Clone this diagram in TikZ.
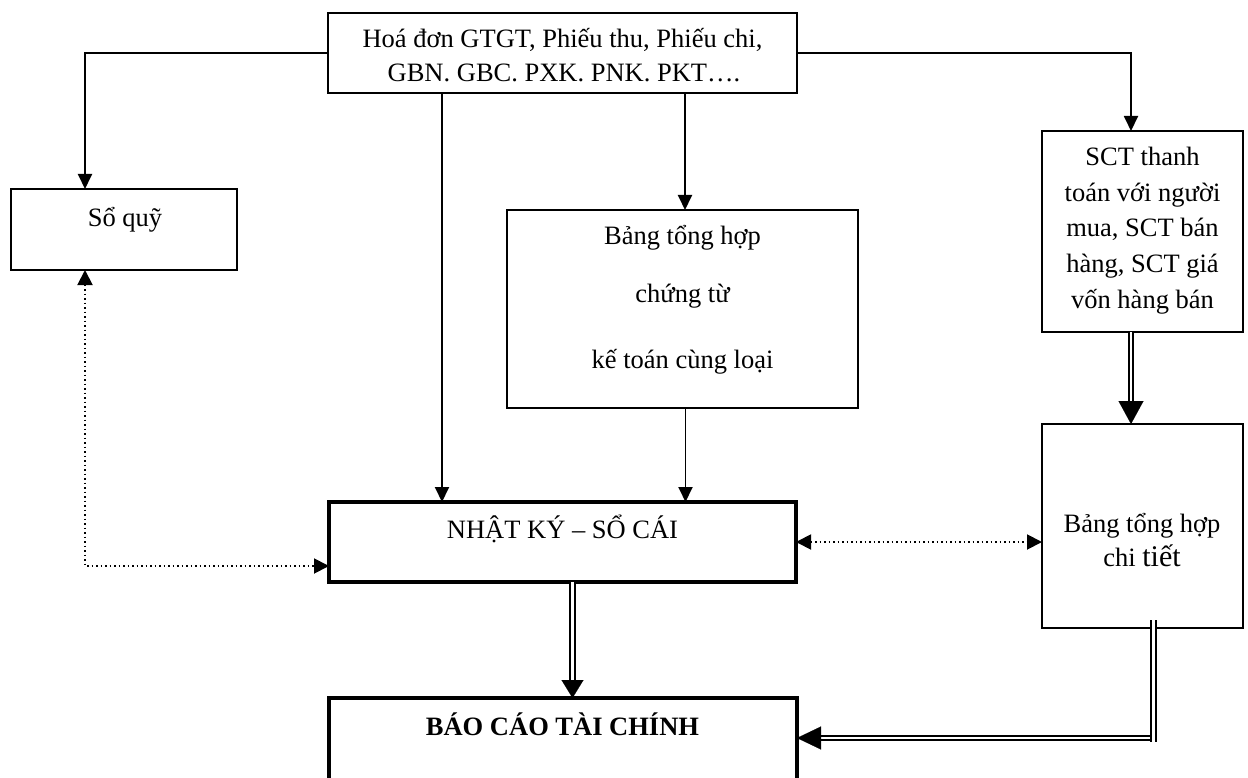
\documentclass[tikz,border=0pt]{standalone}
\usepackage{fontspec}
\setmainfont{Liberation Serif}
\usetikzlibrary{arrows.meta}
\begin{document}
\begin{tikzpicture}[x=1pt,y=-1pt,
  box/.style={draw, rectangle, inner sep=0pt, outer sep=0pt, line width=#1},
  box/.default=2.5pt,
  txt/.style={inner sep=0pt, anchor=base, font=\fontsize{26.5}{30}\selectfont},
  arr/.style={line width=1.9pt, -{Triangle[length=15pt,width=14pt]}},
  dots/.style={line width=1.9pt, dash pattern=on 1.9pt off 2.6pt,
    {Triangle[length=15pt,width=15pt]}-{Triangle[length=15pt,width=15pt]}},
  dbl/.style={double, double distance=2.8pt, line width=1.8pt},
  dhead/.style 2 args={line width=0.1pt, -{Triangle[length=#1,width=#2]}}
]
\clip (0,0) rectangle (1248,778);

% boxes
\node[box, minimum width=469pt, minimum height=80pt] (top) at (562.5,53) {};
\node[box, minimum width=226pt, minimum height=81pt] (soquy) at (124,229.5) {};
\node[box, minimum width=351pt, minimum height=198pt] (mid) at (682.5,309) {};
\node[box=2pt, minimum width=201pt, minimum height=201pt] (sct) at (1142.5,231.5) {};
\node[box=4pt, minimum width=467pt, minimum height=80pt] (nk) at (562.5,542) {};
\node[box=2pt, minimum width=201pt, minimum height=204pt] (chi) at (1142.5,526) {};
\node[box=4pt, minimum width=468pt, minimum height=102pt] (bc) at (563,749) {};

% texts
\node[txt] (topA) at (562.5,48) {Hoá đơn GTGT, Phiếu thu, Phiếu chi,};
\node[txt] (topB) at (564,82) {GBN. GBC. PXK. PNK. PKT….};
\node[txt] (soquyT) at (125,227) {Sổ quỹ};
\node[txt] (midA) at (682.5,245) {Bảng tổng hợp};
\node[txt] (midB) at (682.5,302) {chứng từ};
\node[txt] (midC) at (682.5,368) {kế toán cùng loại};
\node[txt] (sctA) at (1142.5,166) {SCT thanh};
\node[txt] (sctB) at (1142.5,201.5) {toán với người};
\node[txt] (sctC) at (1142.5,237) {mua, SCT bán};
\node[txt] (sctD) at (1142.5,272.5) {hàng, SCT giá};
\node[txt] (sctE) at (1142.5,308) {vốn hàng bán};
\node[txt] (nkT) at (562.5,538) {NHẬT KÝ – SỔ CÁI};
\node[txt] (chiA) at (1142,532) {Bảng tổng hợp};
\node[txt] (chiB) at (1142,566) {chi {\fontsize{30}{34}\selectfont tiết}};
\node[txt, font=\fontsize{26.5}{30}\selectfont\bfseries] (bcT) at (562.5,735.5) {BÁO CÁO TÀI CHÍNH};

% solid connectors
\draw[arr] (top.west) -| ([xshift=-39pt]soquy.north);
\draw[arr] (top.east) -| ([xshift=-11.5pt]sct.north);
\draw[arr] ([xshift=-120.5pt]top.south) -- ([xshift=-120.5pt]nk.north);
\draw[arr] ([xshift=2.5pt]top.south -| mid.north) -- ([xshift=2.5pt]mid.north);
\draw[arr] ([xshift=3pt]mid.south) -- ([xshift=3pt]mid.south |- nk.north);

% dotted two-way connectors
\draw[dots] ([xshift=-39pt]soquy.south) |- ([yshift=-24pt]nk.west);
\draw[dots] (nk.east) -- (nk.east -| chi.west);

% double connectors
\draw[dbl, shorten >=20pt] ([xshift=-11.5pt]sct.south) -- ([xshift=-11.5pt]chi.north);
\draw[dhead={23pt}{25pt}] ([xshift=-11.5pt,yshift=1pt]chi.north) -- ([xshift=-11.5pt]chi.north);

\draw[dbl, shorten >=16pt] ([xshift=10pt]nk.south) -- ([xshift=10pt]nk.south |- bc.north);
\draw[dhead={18pt}{22pt}] ([xshift=10pt,yshift=1pt]nk.south |- bc.north) -- ([xshift=10pt]nk.south |- bc.north);

% detail table to the report: horizontal run first, the vertical run laid over its end
\coordinate (bend) at ([xshift=13pt,yshift=11pt]chi.south |- bc.east);
\draw[dbl, shorten >=21pt] (bend) -- ([yshift=11pt]bc.east);
\draw[dbl] ([xshift=11pt,yshift=8pt]chi.south) -- ([xshift=11pt,yshift=7pt]chi.south |- bc.east);
\draw[dhead={24pt}{23pt}] ([xshift=1pt,yshift=11pt]bc.east) -- ([yshift=11pt]bc.east);
\end{tikzpicture}
\end{document}
